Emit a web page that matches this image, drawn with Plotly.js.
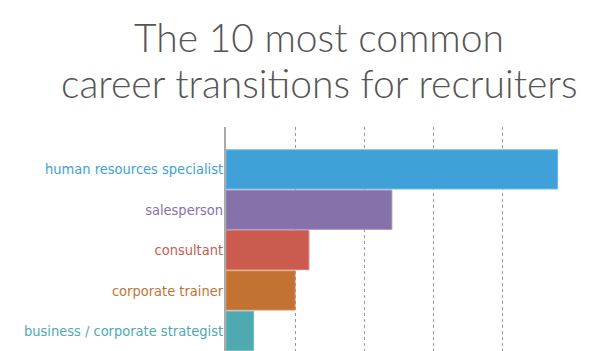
<!DOCTYPE html>
<html><head><meta charset="utf-8">
<script src="https://cdn.plot.ly/plotly-3.0.1.min.js"></script>
<style>html,body{margin:0;padding:0;background:#fff}#c{width:600px;height:351px}</style>
</head><body><div id="c"></div>
<script>
const titleLines = ["The 10 most common", "career transitions for recruiters"];
const categories = ["human resources specialist","salesperson","consultant","corporate trainer","business / corporate strategist"];
const values = [4.8, 2.4, 1.2, 1.0, 0.4];
const colors = ["#40a1d9","#8572aa","#cc5b4f","#c47231","#4ea9b1"];
const edgeColors = ["#6cb8e4","#9d8dbd","#da7e74","#d3905a","#74bcc2"];

const ticktext = categories.map((c,i)=>'<span style="color:'+colors[i]+'">'+c+'</span>');

const trace = {
  type:'bar', orientation:'h', x: values, y: categories,
  marker:{color: colors, line:{color: edgeColors, width:1}},
  hoverinfo:'none'
};
const titleY = [1.4004, 1.195];
const annotations = titleLines.map((t,i)=>({
  text:t, xref:'paper', yref:'paper', x:0.272, y:titleY[i],
  xanchor:'center', yanchor:'middle', showarrow:false,
  font:{family:'Lato', size:39, color:'#555', weight:300}
}));
const layout = {
  width:600, height:351,
  margin:{l:226, r:32, t:127, b:0, pad:0},
  paper_bgcolor:'#fff', plot_bgcolor:'#fff',
  bargap:0.03,
  showlegend:false,
  annotations: annotations,
  xaxis:{range:[0, 4.95], dtick:1, tick0:0, showticklabels:false, zeroline:false,
    showgrid:true, gridcolor:'#999', griddash:'dot', gridwidth:1,
    showline:false, fixedrange:true},
  yaxis:{type:'category', range:[4.5,-1.05], tickvals:categories, ticktext:ticktext,
    showgrid:false, zeroline:false, showline:true, linecolor:'#aaa', linewidth:2,
    ticks:'', ticklabelstandoff:-2,
    tickfont:{family:'DejaVu Sans Condensed, DejaVu Sans', size:14.5, stretch:'condensed'}}
};
Plotly.newPlot('c',[trace],layout,{displayModeBar:false,staticPlot:true});
</script></body></html>
